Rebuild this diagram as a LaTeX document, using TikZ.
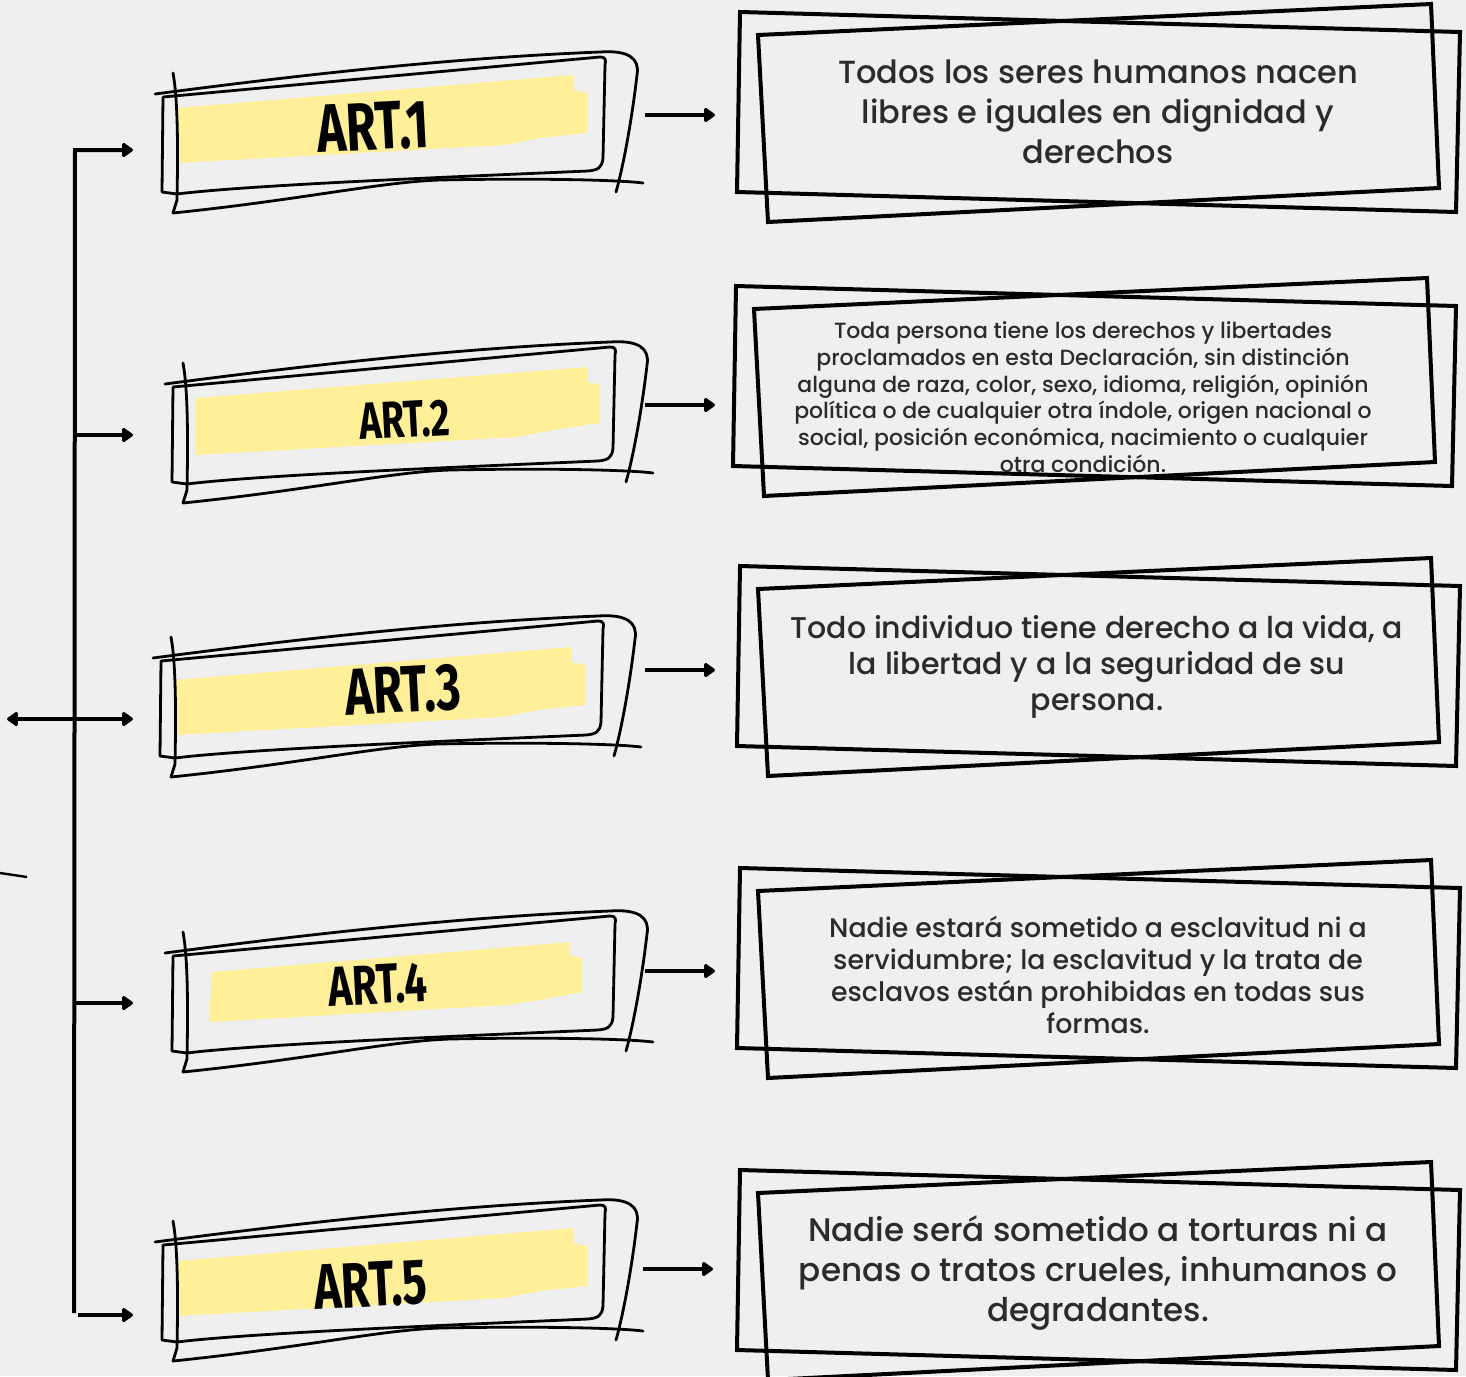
\documentclass[tikz,border=0pt]{standalone}
\usepackage{fontspec}
\setmainfont{Poppins}[UprightFont={* Medium}]
\newfontfamily\artfont[FakeStretch=0.72]{Fira Sans}
\usetikzlibrary{arrows.meta}
\definecolor{bggray}{HTML}{EFEFEF}
\definecolor{hilite}{HTML}{FFEF98}
\definecolor{txtgray}{HTML}{2B2B2B}
\tikzset{
    artlabel/.style={text=black, inner sep=0pt, rotate=3},
    boxtext/.style={align=center, text=txtgray, inner sep=0pt},
    rframe/.style={draw=black, line width=2pt, line join=miter},
    doodle/.style={draw=black, line width=1.4pt, line cap=round, line join=round},
    band/.style={fill=hilite, draw=none},
    arr/.style={line width=2pt, -{Triangle[length=6pt,width=8pt,round]}}
}

\begin{document}
\begin{tikzpicture}[x=0.5pt,y=-0.5pt]
    \fill[bggray] (0,0) rectangle (1466,1376);
    \useasboundingbox (0,0) rectangle (1466,1376);
    % highlight strokes
    \fill[band] (177,108) -- (573,75) -- (573,90) -- (587,93) -- (587,133) -- (540,138) -- (505,145) -- (177,163) -- cycle;
    \fill[band] (196,398) -- (587,367) -- (588,382) -- (600,385) -- (600,423) -- (553,430) -- (517,437) -- (196,455) -- cycle;
    \fill[band] (175,680) -- (571,647) -- (571,662) -- (585,665) -- (585,705) -- (538,710) -- (503,717) -- (175,735) -- cycle;
    \fill[band] (212,972) -- (570,942) -- (570,956) -- (582,958) -- (582,992) -- (540,1000) -- (507,1005) -- (209,1022) -- cycle;
    \fill[band] (177,1261) -- (573,1228) -- (573,1243) -- (587,1246) -- (587,1286) -- (540,1291) -- (505,1298) -- (177,1316) -- cycle;
    % sketchy frames
    \foreach \dx/\dy in {0/0, 10/290, -2/564, 10/859, 0/1148} {
      \begin{scope}[shift={(\dx,\dy)}]
        \draw[doodle] (155,94) .. controls (300,75) and (450,58) .. (600,52) .. controls (628,50) and (640,58) .. (637,75) .. controls (633,110) and (625,160) .. (616,192);
        \draw[doodle] (163,97) -- (600,57) .. controls (606,57) and (606,60) .. (605,65) -- (603,158) .. controls (602,168) and (598,170) .. (588,171) .. controls (450,177) and (250,185) .. (177,194) -- (162,192) -- cycle;
        \draw[doodle] (173,73) .. controls (178,100) and (178,150) .. (177,200) -- (173,213) .. controls (300,200) and (380,182) .. (440,180) .. controls (540,178) and (620,180) .. (643,183);
      \end{scope}
    }
    \node[artlabel, font=\artfont\bfseries\fontsize{34}{34}\selectfont] (art1) at (373,127) {ART.1};
    \node[artlabel, font=\artfont\bfseries\fontsize{26}{26}\selectfont] (art2) at (405,420) {ART.2};
    \node[artlabel, font=\artfont\bfseries\fontsize{33}{33}\selectfont] (art3) at (403,690) {ART.3};
    \node[artlabel, font=\artfont\bfseries\fontsize{28}{28}\selectfont] (art4) at (378,985) {ART.4};
    \node[artlabel, font=\artfont\bfseries\fontsize{32}{32}\selectfont] (art5) at (371,1285) {ART.5};
    % text frames
    \foreach \dx/\dy in {0/0, -4/274, 0/554, 0/856, 0/1158} {
      \begin{scope}[shift={(\dx,\dy)}]
        \draw[rframe] (740,12) -- (1460,32) -- (1456,212) -- (737,192) -- cycle;
        \draw[rframe] (758,35) -- (1431,4) -- (1439,188) -- (768,222) -- cycle;
      \end{scope}
    }
    \node[boxtext, font=\fontsize{16}{20}\selectfont] (txt1) at (1098,112) {Todos los seres humanos nacen\\libres e iguales en dignidad y\\derechos};
    \node[boxtext, font=\fontsize{11}{13.35}\selectfont] (txt2) at (1083,397) {Toda persona tiene los derechos y libertades\\proclamados en esta Declaración, sin distinción\\alguna de raza, color, sexo, idioma, religión, opinión\\política o de cualquier otra índole, origen nacional o\\social, posición económica, nacimiento o cualquier\\otra condición.};
    \node[boxtext, font=\fontsize{15}{18}\selectfont] (txt3) at (1097,667) {Todo individuo tiene derecho a la vida, a\\la libertad y a la seguridad de su\\persona.};
    \node[boxtext, font=\fontsize{13.4}{16}\selectfont] (txt4) at (1098,975) {Nadie estará sometido a esclavitud ni a\\servidumbre; la esclavitud y la trata de\\esclavos están prohibidas en todas sus\\formas.};
    \node[boxtext, font=\fontsize{16.3}{20}\selectfont] (txt5) at (1098,1273) {Nadie será sometido a torturas ni a\\penas o tratos crueles, inhumanos o\\degradantes.};
    % connectors
    \coordinate (s1) at (75,150);
    \coordinate (s2) at (75,435);
    \coordinate (s3) at (75,719);
    \coordinate (s4) at (75,1003);
    \coordinate (s5) at (74,1313);
    \coordinate (b5) at (78,1315);
    \coordinate (e1) at (133,150);
    \coordinate (e2) at (133,435);
    \coordinate (e3) at (133,719);
    \coordinate (e4) at (133,1003);
    \coordinate (e5) at (133,1315);
    \coordinate (w3) at (7,719);
    \coordinate (junk) at (27,877);
    \draw[arr] (s5) -- (s1) -- (e1);
    \draw[arr] (s2) -- (e2);
    \draw[arr, {Triangle[length=6pt,width=8pt,round]}-{Triangle[length=6pt,width=8pt,round]}] (w3) -- (e3);
    \draw[arr] (s4) -- (e4);
    \draw[arr] (b5) -- (e5);
    \draw[line width=1.2pt] (0,873) -- (junk);
    \coordinate (o1) at (645,115);
    \coordinate (i1) at (715,115);
    \coordinate (o2) at (645,405);
    \coordinate (i2) at (715,405);
    \coordinate (o3) at (645,670);
    \coordinate (i3) at (715,670);
    \coordinate (o4) at (645,971);
    \coordinate (i4) at (715,971);
    \coordinate (o5) at (643,1269);
    \coordinate (i5) at (713,1269);
    \foreach \k in {1,...,5} \draw[arr] (o\k) -- (i\k);
\end{tikzpicture}
\end{document}
